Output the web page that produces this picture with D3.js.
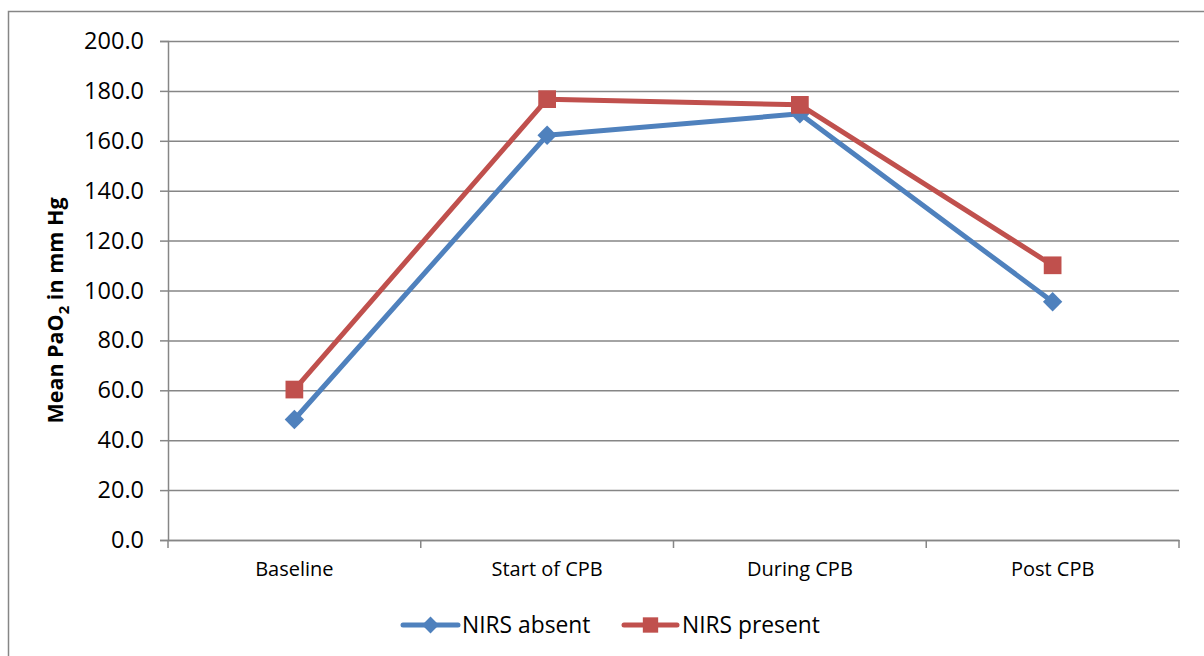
<!DOCTYPE html>
<html>
<head>
<meta charset="utf-8">
<script src="https://cdn.jsdelivr.net/npm/d3@7"></script>
<style>
  html, body { margin: 0; padding: 0; background: #fff; }
  svg { display: block; font-family: "Open Sans", "Liberation Sans", sans-serif; }
</style>
</head>
<body>
<svg id="chart" width="1204" height="656"></svg>
<script>
// Mean arterial oxygen tension at each surgical stage
const categories = ["Baseline", "Start of CPB", "During CPB", "Post CPB"];
const nirsAbsent = [48.3, 162.2, 170.8, 95.5];
const nirsPresent = [60.3, 176.7, 174.4, 110.1];
const yTicks = [0, 20, 40, 60, 80, 100, 120, 140, 160, 180, 200];

const seriesList = [
  { name: "NIRS absent", values: nirsAbsent, color: "#4F81BD", marker: "diamond" },
  { name: "NIRS present", values: nirsPresent, color: "#C0504D", marker: "square" }
];

const svg = d3.select("#chart");
const W = 1204, H = 656;
const plot = { left: 168, right: 1179, top: 41, bottom: 540 };
const axisGray = "#868686";

// outer chart frame (runs off the right and bottom edges)
svg.append("rect")
  .attr("x", 8.5).attr("y", 11.5)
  .attr("width", W + 10).attr("height", H + 10)
  .attr("fill", "none").attr("stroke", axisGray).attr("stroke-width", 1.5);

const x = d3.scaleBand().domain(categories).range([plot.left, plot.right]).padding(0);
const y = d3.scaleLinear().domain([0, 200]).range([plot.bottom, plot.top]);

// horizontal gridlines + y-axis ticks & labels
const yAxis = d3.axisLeft(y).tickValues(yTicks).tickSize(8).tickPadding(16)
  .tickFormat(d3.format(".1f"));
const gy = svg.append("g").attr("transform", `translate(${plot.left},0)`).call(yAxis);
gy.select(".domain").attr("stroke", axisGray).attr("stroke-width", 1.5);
gy.selectAll(".tick line").attr("stroke", axisGray).attr("stroke-width", 1.5);
gy.selectAll(".tick text").attr("fill", "#000").attr("font-size", 23.5)
  .attr("font-family", "'Open Sans', sans-serif");
gy.selectAll(".tick").append("line")
  .attr("x1", 0).attr("x2", plot.right - plot.left)
  .attr("stroke", axisGray).attr("stroke-width", 1.5);

// category axis
const xAxis = d3.axisBottom(x).tickSize(0).tickPadding(22);
const gx = svg.append("g").attr("transform", `translate(0,${plot.bottom})`).call(xAxis);
gx.select(".domain").attr("stroke", axisGray).attr("stroke-width", 1.5);
gx.selectAll(".tick text").attr("fill", "#000").attr("font-size", 20)
  .attr("font-family", "'Open Sans', sans-serif");
// boundary tick marks between categories
const bounds = categories.map(c => x(c)).concat([plot.right]);
gx.selectAll("line.bound").data(bounds).join("line").attr("class", "bound")
  .attr("x1", d => d).attr("x2", d => d).attr("y1", 0).attr("y2", 8)
  .attr("stroke", axisGray).attr("stroke-width", 1.5);

// y-axis title
svg.append("text")
  .attr("transform", `translate(63,${(plot.top + plot.bottom) / 2 + 20}) rotate(-90)`)
  .attr("text-anchor", "middle")
  .attr("font-size", 21.5).attr("font-weight", "bold").attr("fill", "#000")
  .call(t => {
    t.append("tspan").text("Mean PaO");
    t.append("tspan").text("2").attr("font-size", 15).attr("dy", 6);
    t.append("tspan").text(" in mm Hg").attr("dy", -6);
  });

const cx = c => x(c) + x.bandwidth() / 2;
const markerPath = (type, size) => type === "diamond"
  ? d3.symbol(d3.symbolDiamond2, size)()
  : d3.symbol(d3.symbolSquare2, size)();

const line = d3.line().x((d, i) => cx(categories[i])).y(d => y(d));

seriesList.forEach(s => {
  svg.append("path").datum(s.values)
    .attr("d", line).attr("fill", "none")
    .attr("stroke", s.color).attr("stroke-width", 5)
    .attr("stroke-linejoin", "round").attr("stroke-linecap", "round");
  svg.selectAll(null).data(s.values).join("path")
    .attr("transform", (d, i) => `translate(${cx(categories[i])},${y(d)})`)
    .attr("d", markerPath(s.marker, s.marker === "diamond" ? 240 : 400))
    .attr("fill", s.color);
});

// legend
const legend = [
  { s: seriesList[0], x0: 403, x1: 458, tx: 462 },
  { s: seriesList[1], x0: 624, x1: 677, tx: 682 }
];
const ly = 625;
legend.forEach(l => {
  svg.append("line").attr("x1", l.x0).attr("x2", l.x1).attr("y1", ly).attr("y2", ly)
    .attr("stroke", l.s.color).attr("stroke-width", 5).attr("stroke-linecap", "round");
  svg.append("path")
    .attr("transform", `translate(${(l.x0 + l.x1) / 2},${ly})`)
    .attr("d", markerPath(l.s.marker, l.s.marker === "diamond" ? 180 : 300))
    .attr("fill", l.s.color);
  svg.append("text").attr("x", l.tx).attr("y", ly).attr("dy", "0.35em")
    .attr("font-size", 22.8).attr("fill", "#000").text(l.s.name);
});
</script>
</body>
</html>
